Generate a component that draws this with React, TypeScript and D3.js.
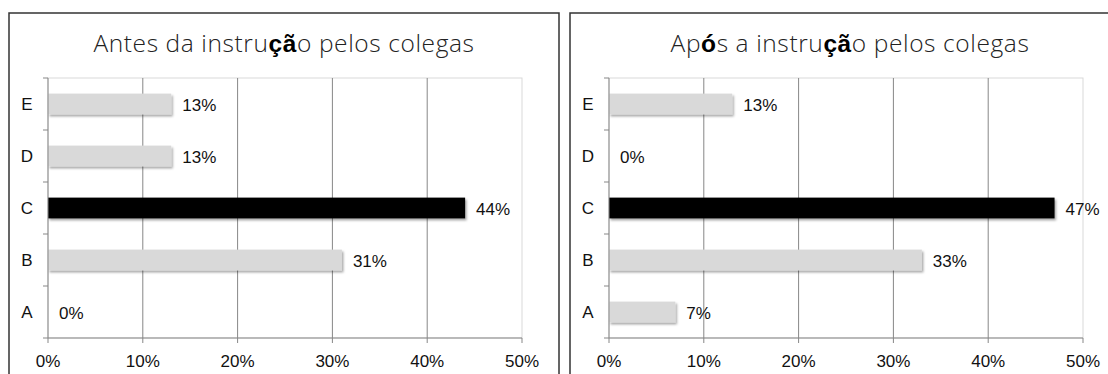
import React from "react";
import * as d3 from "d3";

// Answer options, top to bottom
const categories = ["E", "D", "C", "B", "A"];
// Share of answers (%) before and after peer instruction
const valuesBefore = [13, 13, 44, 31, 0];
const valuesAfter = [13, 0, 47, 33, 7];
// The correct answer is highlighted
const correctAnswer = "C";
const xTicks = [0, 10, 20, 30, 40, 50];

const W = 1108;
const H = 374;

type TitlePart = { text: string; bold?: boolean };

const titleBefore: TitlePart[] = [
  { text: "Antes da instru" },
  { text: "çã", bold: true },
  { text: "o pelos colegas" },
];
const titleAfter: TitlePart[] = [
  { text: "Ap" },
  { text: "ó", bold: true },
  { text: "s a instru" },
  { text: "çã", bold: true },
  { text: "o pelos colegas" },
];

function Panel({
  x0,
  width,
  title,
  values,
  id,
}: {
  x0: number;
  width: number;
  title: TitlePart[];
  values: number[];
  id: string;
}) {
  const plotLeft = x0 + 39;
  const plotRight = plotLeft + 474;
  const plotTop = 78;
  const plotBottom = 338;

  const x = d3.scaleLinear().domain([0, 50]).range([plotLeft, plotRight]);
  const y = d3
    .scaleBand<string>()
    .domain(categories)
    .range([plotTop, plotBottom])
    .paddingInner(0.6)
    .paddingOuter(0.3);
  const band = d3.scaleBand<string>().domain(categories).range([plotTop, plotBottom]);

  const labelFont = "'Liberation Sans', Arial, sans-serif";
  const grid = "#878787";

  return (
    <g>
      <rect
        x={x0}
        y={13}
        width={width}
        height={H}
        fill="#fff"
        stroke="#333"
        strokeWidth={1.5}
      />
      <text
        x={x0 + width / 2}
        y={52}
        textAnchor="middle"
        fontFamily="'Open Sans', sans-serif"
        fontWeight={300}
        fontSize={24.5}
        letterSpacing={0.6}
        fill="#222"
      >
        {title.map((p, i) => (
          <tspan
            key={i}
            fontWeight={p.bold ? 700 : 300}
            fontFamily={p.bold ? labelFont : "'Open Sans', sans-serif"}
            fill={p.bold ? "#000" : "#222"}
          >
            {p.text}
          </tspan>
        ))}
      </text>

      {/* plot area outline */}
      <rect
        x={plotLeft}
        y={plotTop}
        width={plotRight - plotLeft}
        height={plotBottom - plotTop}
        fill="none"
        stroke="#d9d9d9"
        strokeWidth={1}
      />
      {/* vertical gridlines */}
      {xTicks
        .filter((t) => t > 0 && t < 50)
        .map((t) => (
          <line
            key={t}
            x1={x(t)}
            x2={x(t)}
            y1={plotTop}
            y2={plotBottom}
            stroke={grid}
            strokeWidth={1}
          />
        ))}

      {/* bars */}
      {categories.map((c, i) => (
        <rect
          key={c}
          x={x(0)}
          y={y(c)!}
          width={Math.max(0, x(values[i]) - x(0))}
          height={y.bandwidth()}
          fill={c === correctAnswer ? "#000" : "#d9d9d9"}
          filter={values[i] > 0 ? `url(#shadow-${id})` : undefined}
        />
      ))}

      {/* axes */}
      <line x1={plotLeft} x2={plotLeft} y1={plotTop} y2={plotBottom} stroke={grid} />
      <line x1={plotLeft} x2={plotRight} y1={plotBottom} y2={plotBottom} stroke={grid} />
      {categories.map((c) => (
        <line
          key={"t" + c}
          x1={plotLeft - 5}
          x2={plotLeft}
          y1={band(c)!}
          y2={band(c)!}
          stroke={grid}
        />
      ))}
      <line x1={plotLeft - 5} x2={plotLeft} y1={plotBottom} y2={plotBottom} stroke={grid} />
      {xTicks.map((t) => (
        <line
          key={"xt" + t}
          x1={x(t)}
          x2={x(t)}
          y1={plotBottom}
          y2={plotBottom + 5}
          stroke={grid}
        />
      ))}

      {/* category labels */}
      {categories.map((c) => (
        <text
          key={"l" + c}
          x={plotLeft - 21}
          y={band(c)! + band.bandwidth() / 2}
          dy="0.35em"
          textAnchor="middle"
          fontFamily={labelFont}
          fontSize={17}
          fill="#111"
        >
          {c}
        </text>
      ))}

      {/* value labels */}
      {categories.map((c, i) => (
        <text
          key={"v" + c}
          x={x(values[i]) + 11}
          y={y(c)! + y.bandwidth() / 2 + 1}
          dy="0.35em"
          fontFamily={labelFont}
          fontSize={17}
          fill="#111"
        >
          {values[i]}%
        </text>
      ))}

      {/* x tick labels */}
      {xTicks.map((t) => (
        <text
          key={"xl" + t}
          x={x(t)}
          y={367}
          textAnchor="middle"
          fontFamily={labelFont}
          fontSize={17}
          fill="#111"
        >
          {t}%
        </text>
      ))}
    </g>
  );
}

export default function App() {
  return (
    <svg
      width={W}
      height={H}
      style={{ position: "absolute", left: 0, top: 0, background: "#fff" }}
    >
      <defs>
        {["a", "b"].map((id) => (
          <filter key={id} id={`shadow-${id}`} x="-5%" y="-30%" width="115%" height="180%">
            <feDropShadow dx={1.5} dy={2} stdDeviation={1.2} floodColor="#000" floodOpacity={0.35} />
          </filter>
        ))}
      </defs>
      <rect width={W} height={H} fill="#fff" />
      <Panel x0={9} width={550} title={titleBefore} values={valuesBefore} id="a" />
      <Panel x0={570} width={560} title={titleAfter} values={valuesAfter} id="b" />
    </svg>
  );
}
